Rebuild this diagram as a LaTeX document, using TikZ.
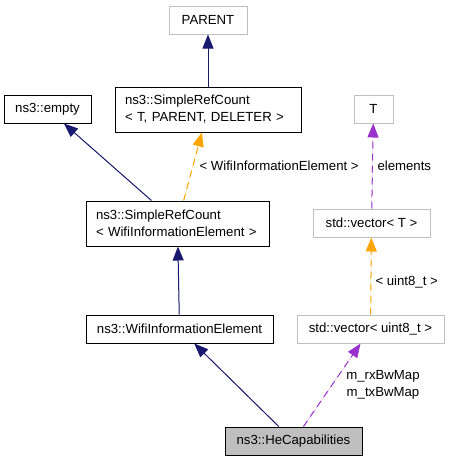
\documentclass[tikz,border=0pt]{standalone}
\usepackage{fontspec}
\setmainfont{Liberation Sans}
\usetikzlibrary{arrows.meta}
\definecolor{navyline}{HTML}{191970}
\definecolor{orangeline}{HTML}{FFA500}
\definecolor{purpleline}{HTML}{9A32CD}
\definecolor{greybox}{HTML}{BFBFBF}
\begin{document}
\begin{tikzpicture}[x=1pt,y=-1pt,line width=1pt,
  cls/.style={draw=black,fill=white,minimum height=28pt,inner xsep=10pt,inner ysep=2pt},
  ext/.style={cls,draw=greybox},
  twoline/.style={cls,minimum height=45pt,align=left},
  inh/.style={-{Triangle[length=14pt,width=11pt]},draw=navyline,fill=navyline},
  tmpl/.style={-{Triangle[length=14pt,width=11pt]},draw=orangeline,fill=orangeline,dash pattern=on 7pt off 5pt},
  usage/.style={-{Triangle[length=14pt,width=11pt]},draw=purpleline,fill=purpleline,dash pattern=on 7pt off 5pt}]
\fontsize{13.2}{17}\selectfont
\useasboundingbox (0,0) rectangle (449,461);
% boxes
\node[ext,minimum width=78pt] (parent) at (208,20) {PARENT};
\node[twoline,minimum width=186pt,text width=166pt] (srct) at (208,109.5) {ns3::SimpleRefCount\\< T, PARENT, DELETER >};
\node[cls,minimum width=87pt] (empty) at (47.5,109) {ns3::empty};
\node[ext,minimum width=39pt] (tnode) at (373.5,109) {T};
\node[twoline,minimum width=183pt,text width=163pt] (srcw) at (177.5,223.5) {ns3::SimpleRefCount\\< WifiInformationElement >};
\node[ext,minimum width=117pt] (vect) at (371.5,223) {std::vector< T >};
\node[cls,minimum width=187pt] (wie) at (179.5,329) {ns3::WifiInformationElement};
\node[ext,minimum width=147pt] (vecu) at (370.5,329) {std::vector< uint8\_t >};
\node[cls,fill=greybox,minimum width=137pt] (he) at (293.5,441) {ns3::HeCapabilities};
% connectors
\draw[inh] (srct) -- (parent);
\draw[inh] (srcw) -- (empty);
\draw[tmpl] (srcw) -- (srct);
\draw[usage] (vect) -- (tnode);
\draw[inh] (wie) -- (srcw);
\draw[tmpl] (vecu) -- (vect);
\draw[inh] (he) -- (wie);
\draw[usage] (he) -- (vecu);
% labels
\node[anchor=west,inner sep=0pt] (lwie) at (199,166) {< WifiInformationElement >};
\node[anchor=west,inner sep=0pt] (lelem) at (377,166) {elements};
\node[anchor=west,inner sep=0pt] (luint) at (375,282) {< uint8\_t >};
\node[align=center,inner sep=0pt] (lmap) at (383,384.5) {m\_rxBwMap\\m\_txBwMap};
\end{tikzpicture}
\end{document}
